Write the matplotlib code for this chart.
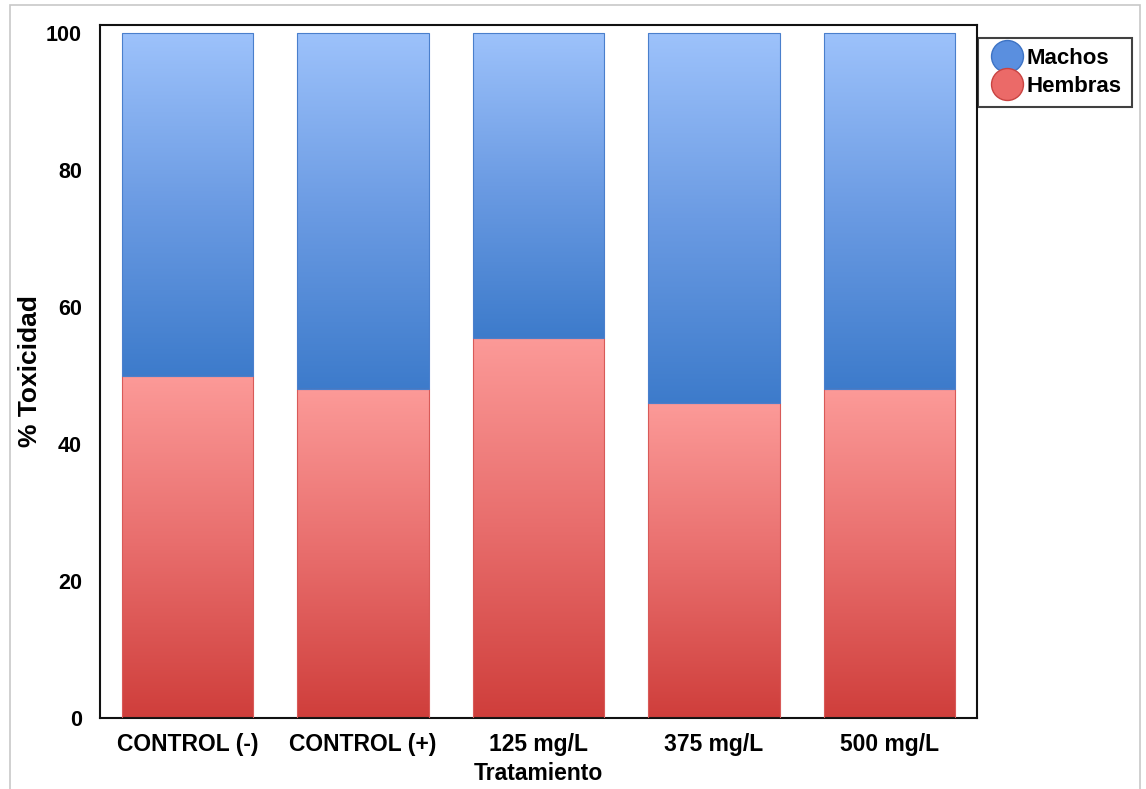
"""
stacked bar chart: % toxicidad por tratamiento
"""

import numpy as np
import matplotlib
matplotlib.use("Agg")
import matplotlib.pyplot as plt
from matplotlib.colors import LinearSegmentedColormap
from matplotlib.lines import Line2D
from matplotlib.patches import Rectangle

# data
tratamientos = ["CONTROL (-)", "CONTROL (+)", "125 mg/L", "375 mg/L", "500 mg/L"]
hembras = [50.0, 48.0, 55.5, 46.0, 48.0]
machos = [50.0, 52.0, 44.5, 54.0, 52.0]

plt.rcParams["font.family"] = ["Liberation Sans", "DejaVu Sans"]
plt.rcParams["font.weight"] = "bold"

blue_cmap = LinearSegmentedColormap.from_list("blue", ["#3d7bcb", "#6b9be3", "#9dc2fb"])
red_cmap = LinearSegmentedColormap.from_list("red", ["#cf3e3b", "#e86d6c", "#fc9a98"])

fig = plt.figure(figsize=(11.46, 7.89), dpi=100)
ax = fig.add_axes([100 / 1146, 1 - 718 / 789, 877 / 1146, 693 / 789])

x = np.arange(len(tratamientos))
bars_h = ax.bar(x, hembras, width=0.75, color="none", edgecolor="#d85a58", linewidth=0.8, zorder=3)
bars_m = ax.bar(x, machos, width=0.75, bottom=hembras, color="none", edgecolor="#4a7fcc",
                linewidth=0.8, zorder=3)

# gradient fill clipped to each bar
grad = np.linspace(0, 1, 256).reshape(-1, 1)
for bars, cmap in [(bars_h, red_cmap), (bars_m, blue_cmap)]:
    for b in bars:
        x0, y0, w, h = b.get_x(), b.get_y(), b.get_width(), b.get_height()
        im = ax.imshow(grad, cmap=cmap, origin="lower", aspect="auto",
                       extent=[x0, x0 + w, y0, y0 + h], zorder=2)
        im.set_clip_path(b)

ax.set_xlim(-0.5, 4.5)
ax.set_ylim(0, 101.2)
ax.set_yticks([0, 20, 40, 60, 80, 100])
ax.set_xticks(x)
ax.set_xticklabels(tratamientos)
ax.tick_params(axis="x", length=0, labelsize=16.5, pad=11)
ax.tick_params(axis="y", length=0, labelsize=15.5, pad=13)
for s in ax.spines.values():
    s.set_linewidth(1.5)
    s.set_color("#111111")

ax.set_ylabel("% Toxicidad", fontsize=19, fontweight="bold")
ax.yaxis.set_label_coords(-0.066, 0.5)
ax.set_xlabel("Tratamiento", fontsize=16.5, fontweight="bold", labelpad=4)

handles = [
    Line2D([], [], marker="o", linestyle="none", markersize=23,
           markerfacecolor="#5a8fdf", markeredgecolor="#3d73c4"),
    Line2D([], [], marker="o", linestyle="none", markersize=23,
           markerfacecolor="#eb6a68", markeredgecolor="#c94341"),
]
leg = fig.legend(handles, ["Machos", "Hembras"], loc="upper left",
                 bbox_to_anchor=(978 / 1146, 1 - 38 / 789), fontsize=16,
                 frameon=True, fancybox=False, edgecolor="#111111",
                 handletextpad=0.05, labelspacing=0.3, borderpad=0.45,
                 handlelength=1.7, borderaxespad=0)
leg.get_frame().set_linewidth(1.5)

# faint page frame around the image
fig.add_artist(Rectangle((10 / 1146, -0.01), 1130 / 1146, 1 - 5 / 789 + 0.01,
                         transform=fig.transFigure, fill=False,
                         edgecolor="#c8c8c8", linewidth=1.2))

fig.savefig("out.png", dpi=100)
